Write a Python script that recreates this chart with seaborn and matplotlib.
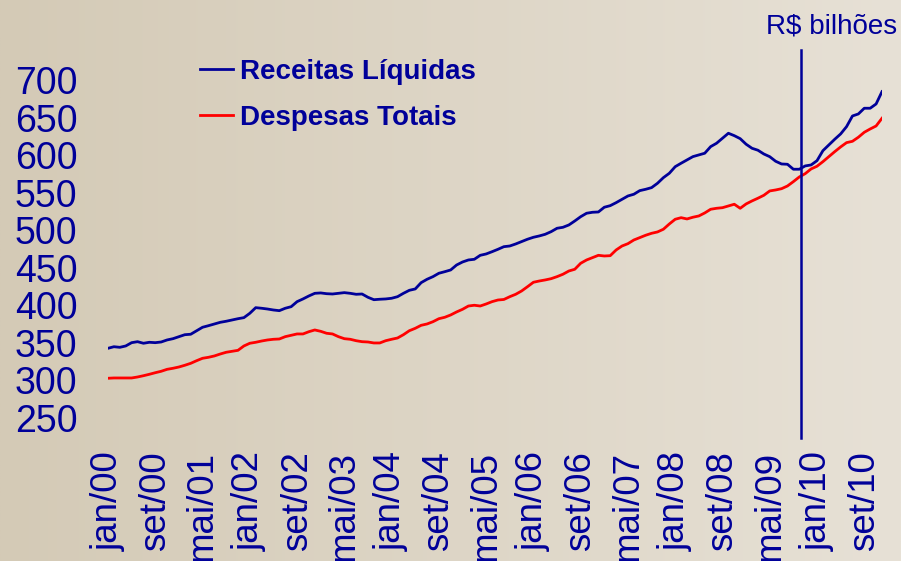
import matplotlib
matplotlib.use("Agg")
import matplotlib.pyplot as plt
import numpy as np
import pandas as pd
import seaborn as sns

NAVY = "#000099"
RED = "#FF0000"

MONTHS = ["jan", "fev", "mar", "abr", "mai", "jun", "jul", "ago", "set", "out", "nov", "dez"]
PERIODS = [f"{m}/{y:02d}" for y in range(0, 11) for m in MONTHS]  # jan/00 .. dez/10

# R$ bilhões, acumulado 12 meses
RECEITAS = [
    342.8, 344.9, 344.1, 345.9, 350.3, 351.6, 349.5, 350.8, 350.3, 351.2, 353.9, 355.6,
    358.3, 360.9, 361.5, 366.2, 370.8, 372.9, 375.2, 377.4, 378.8, 380.5, 382.2, 383.6,
    389.4, 396.9, 396.1, 395.1, 393.8, 392.9, 396.1, 398.2, 404.9, 408.5, 412.5, 416.0,
    416.5, 415.5, 415.1, 416.0, 416.9, 416.0, 414.7, 415.1, 410.7, 407.5, 408.1, 408.5,
    409.4, 411.5, 416.0, 420.0, 421.8, 430.2, 434.7, 438.2, 442.7, 444.8, 447.1, 453.7,
    457.7, 460.4, 461.3, 466.6, 468.4, 471.4, 474.6, 478.1, 479.0, 481.7, 484.8, 488.0,
    490.6, 492.4, 494.6, 498.1, 502.6, 503.9, 507.0, 512.3, 518.0, 522.6, 523.9, 524.3,
    530.6, 532.7, 536.7, 541.2, 545.6, 547.9, 552.7, 554.5, 556.7, 562.5, 570.0, 575.8,
    584.6, 589.2, 593.6, 598.0, 600.2, 602.5, 611.3, 615.8, 622.4, 629.1, 625.9, 621.9,
    614.5, 609.1, 606.5, 601.5, 597.9, 591.8, 588.2, 587.8, 581.2, 581.2, 585.6, 586.9,
    592.6, 605.9, 613.5, 621.1, 628.2, 637.9, 652.1, 654.8, 662.4, 662.4, 668.1, 684.5,
]
DESPESAS = [
    302.9, 303.3, 303.3, 303.3, 303.3, 304.6, 306.3, 308.2, 310.3, 312.2, 314.8, 316.2,
    317.9, 320.2, 322.8, 326.3, 329.5, 330.8, 332.6, 335.2, 337.5, 338.8, 340.1, 345.9,
    349.5, 350.8, 352.5, 353.9, 354.8, 355.2, 358.3, 360.1, 361.9, 361.9, 364.9, 367.2,
    365.4, 362.8, 361.9, 358.3, 355.6, 354.8, 352.9, 351.6, 351.2, 349.9, 349.9, 352.9,
    354.8, 356.5, 360.9, 366.2, 369.4, 373.4, 375.2, 378.2, 382.2, 384.1, 387.2, 391.2,
    394.7, 399.1, 400.1, 399.1, 401.8, 404.9, 407.1, 407.8, 411.5, 414.7, 419.1, 424.8,
    430.7, 432.4, 433.8, 435.5, 438.2, 441.4, 445.7, 448.0, 456.0, 460.4, 463.5, 466.6,
    465.7, 466.1, 473.7, 479.0, 482.1, 487.0, 490.1, 493.3, 495.9, 497.7, 501.3, 508.3,
    514.6, 516.7, 515.0, 517.3, 519.0, 523.0, 527.9, 529.2, 530.0, 532.3, 534.6, 529.2,
    535.0, 539.0, 542.6, 546.5, 552.3, 553.6, 555.3, 558.9, 564.7, 570.9, 575.3, 581.6,
    585.2, 591.3, 598.0, 604.6, 610.9, 616.6, 618.4, 623.8, 630.4, 634.8, 638.8, 649.1,
]
Y_TICKS = [250, 300, 350, 400, 450, 500, 550, 600, 650, 700]
X_TICK_LABELS = ["jan/00", "set/00", "mai/01", "jan/02", "set/02", "mai/03", "jan/04",
                 "set/04", "mai/05", "jan/06", "set/06", "mai/07", "jan/08", "set/08",
                 "mai/09", "jan/10", "set/10"]
MARKER_MONTH = 117.3  # vertical marker, roughly oct/nov 2009

plt.rcParams["font.family"] = ["Liberation Sans", "DejaVu Sans"]

df = pd.DataFrame({
    "idx": np.arange(len(PERIODS)),
    "periodo": PERIODS,
    "Receitas Líquidas": RECEITAS,
    "Despesas Totais": DESPESAS,
})
long = df.melt(id_vars=["idx", "periodo"], var_name="serie", value_name="valor")

fig = plt.figure(figsize=(9.01, 5.61), dpi=100)

# beige gradient background
bg = fig.add_axes([0, 0, 1, 1], zorder=0)
left_c = np.array([212, 202, 182]) / 255
right_c = np.array([231, 225, 214]) / 255
t = np.linspace(0, 1, 400)[None, :, None]
grad = left_c * (1 - t) + right_c * t
bg.imshow(np.repeat(grad, 2, axis=0), aspect="auto", extent=[0, 1, 0, 1])
bg.axis("off")

ax = fig.add_axes([108 / 901, 1 - 418 / 561, 774 / 901, 338 / 561], zorder=1)
ax.patch.set_alpha(0)

sns.lineplot(data=long, x="idx", y="valor", hue="serie",
             palette={"Receitas Líquidas": NAVY, "Despesas Totais": RED},
             linewidth=2.0, ax=ax)

ax.set_xlim(0, len(PERIODS) - 1)
ax.set_ylim(250, 700)
ax.set_yticks(Y_TICKS)
ax.set_xticks(np.arange(0, len(PERIODS), 8))
ax.set_xticklabels(X_TICK_LABELS, rotation=90, va="top", ha="center")
ax.tick_params(axis="y", length=0, pad=22, labelsize=27, labelcolor=NAVY)
ax.tick_params(axis="x", length=0, pad=24, labelsize=26.5, labelcolor=NAVY)
for s in ax.spines.values():
    s.set_visible(False)
ax.set_xlabel("")
ax.set_ylabel("")

ax.plot([MARKER_MONTH, MARKER_MONTH], [223, 740], color=NAVY, linewidth=1.8, clip_on=False)

handles, labels = ax.get_legend_handles_labels()
leg = ax.legend(handles, labels, loc="upper left", bbox_to_anchor=(200 / 901, 1 - 59 / 561),
                bbox_transform=fig.transFigure, frameon=False, fontsize=20,
                handlelength=1.2, handletextpad=0.25, labelspacing=0.72,
                borderpad=0, borderaxespad=0)
for txt in leg.get_texts():
    txt.set_color(NAVY)
    txt.set_fontweight("bold")

fig.text(832 / 901, 1 - 26 / 561, "R$ bilhões", ha="center", va="center",
         fontsize=20, color=NAVY)

fig.savefig("out.png", dpi=100)
